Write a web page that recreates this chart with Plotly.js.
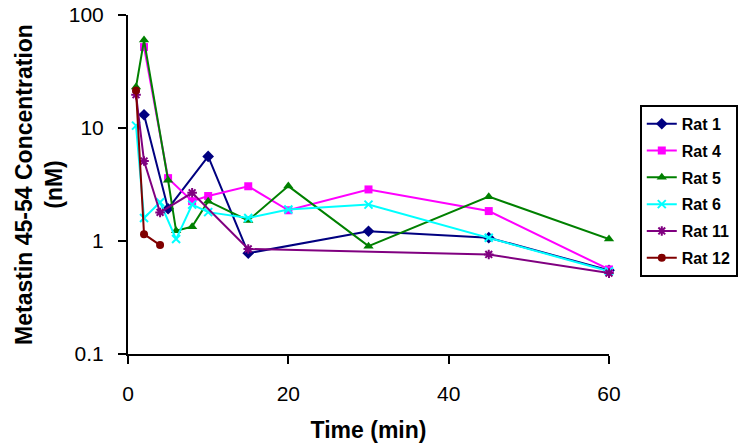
<!DOCTYPE html>
<html>
<head>
<meta charset="utf-8">
<script src="https://cdn.plot.ly/plotly-3.0.1.min.js"></script>
<style>html,body{margin:0;padding:0;background:#fff;}#chart{width:750px;height:448px;}</style>
</head>
<body>
<div id="chart"></div>
<script>
// Data
const rat1_t = [2, 5, 10, 15, 30, 45, 60];
const rat1_v = [13.1, 1.93, 5.6, 0.78, 1.22, 1.07, 0.55];

const rat4_t = [2, 5, 8, 10, 15, 20, 30, 45, 60];
const rat4_v = [52, 3.6, 2.25, 2.5, 3.05, 1.87, 2.86, 1.84, 0.56];

const rat5_t = [1, 2, 5, 6, 8, 10, 15, 20, 30, 45, 60];
const rat5_v = [23, 60, 3.45, 1.23, 1.34, 2.25, 1.52, 3.06, 0.9, 2.47, 1.04];

const rat6_t = [1, 2, 4, 6, 8, 10, 15, 20, 30, 45, 60];
const rat6_v = [10.5, 1.6, 2.2, 1.04, 2.1, 1.8, 1.6, 1.9, 2.1, 1.07, 0.54];

const rat11_t = [1, 2, 4, 8, 15, 45, 60];
const rat11_v = [19.7, 5.1, 1.79, 2.67, 0.85, 0.76, 0.52];

const rat12_t = [1, 2, 4];
const rat12_v = [21.5, 1.15, 0.92];

const seriesNames = ['Rat 1', 'Rat 4', 'Rat 5', 'Rat 6', 'Rat 11', 'Rat 12'];
const yTickVals = [0.1, 1, 10, 100];
const yTickText = ['0.1', '1', '10', '100'];
const xTickVals = [0, 20, 40, 60];

const FONT = 'Liberation Sans, Arial, sans-serif';

function mk(name, t, v, color, symbol, msize, open) {
  const marker = {symbol: symbol, size: msize, color: color};
  if (open) marker.line = {color: color, width: 2};
  return {
    x: t, y: v, name: name, type: 'scatter', mode: 'lines+markers',
    line: {color: color, width: 2},
    marker: marker, legendgroup: name, cliponaxis: false
  };
}

const data = [
  mk(seriesNames[0], rat1_t, rat1_v, '#000080', 'diamond', 9, false),
  mk(seriesNames[1], rat4_t, rat4_v, '#FF00FF', 'square', 8, false),
  mk(seriesNames[2], rat5_t, rat5_v, '#008000', 'triangle-up', 9, false),
  mk(seriesNames[3], rat6_t, rat6_v, '#00FFFF', 'x-thin-open', 8, true),
  mk(seriesNames[4], rat11_t, rat11_v, '#800080', 'asterisk-open', 8, true),
  mk(seriesNames[5], rat12_t, rat12_v, '#800000', 'circle', 8, false)
];

const layout = {
  width: 750, height: 448,
  margin: {l: 128, r: 134, t: 15, b: 94},
  paper_bgcolor: '#fff', plot_bgcolor: '#fff',
  font: {family: FONT, color: '#000'},
  showlegend: true,
  legend: {
    x: 1.064, xanchor: 'left', y: 0.735, yanchor: 'top',
    bordercolor: '#000', borderwidth: 2, bgcolor: '#fff',
    font: {family: FONT, size: 16, weight: 'bold', color: '#000'},
    tracegroupgap: 3, traceorder: 'grouped'
  },
  xaxis: {
    range: [0, 60], tickvals: xTickVals, ticktext: xTickVals.map(String),
    showline: true, linecolor: '#000', linewidth: 2,
    ticks: 'outside', ticklen: 8, tickwidth: 2, tickcolor: '#000',
    showgrid: false, zeroline: false,
    tickfont: {family: FONT, size: 21},
    ticklabelstandoff: 12,
    title: {text: '<b>Time (min)</b>', font: {family: FONT, size: 23}, standoff: 18}
  },
  yaxis: {
    type: 'log', range: [-1, 2], tickvals: yTickVals, ticktext: yTickText,
    showline: true, linecolor: '#000', linewidth: 2,
    ticks: 'outside', ticklen: 8, tickwidth: 2, tickcolor: '#000',
    showgrid: false, zeroline: false,
    tickfont: {family: FONT, size: 21},
    ticklabelstandoff: 10,
    title: {text: '<b>Metastin 45-54 Concentration<br>(nM)</b>', font: {family: FONT, size: 23}, standoff: 0}
  }
};

Plotly.newPlot('chart', data, layout, {displayModeBar: false, staticPlot: true});
</script>
</body>
</html>
